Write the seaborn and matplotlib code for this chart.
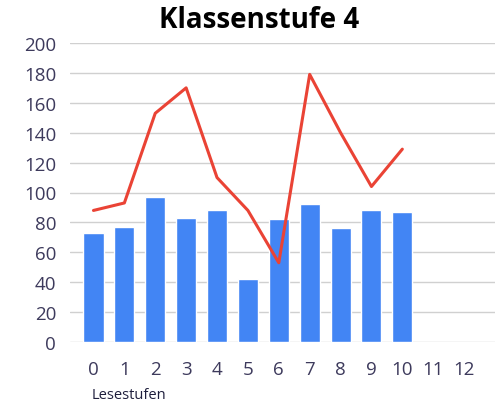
import numpy as np
import pandas as pd
import seaborn as sns
import matplotlib.pyplot as plt

# reading levels and values
levels = list(range(11))
bar_values = [73, 77, 97, 83, 88, 42, 82, 92, 76, 88, 87]
line_values = [88, 93, 153, 170, 110, 88, 53, 179, 140, 104, 129]
tick_labels = [str(i) for i in range(13)]

sns.set_theme(style="white")
plt.rcParams['font.family'] = ['Open Sans', 'DejaVu Sans']

fig = plt.figure(figsize=(5.04, 4.06), dpi=100)
ax = fig.add_axes([70 / 504, 1 - 343 / 406, 425 / 504, 299 / 406])

df = pd.DataFrame({'level': levels, 'bars': bar_values, 'line': line_values})

sns.barplot(data=df, x='level', y='bars', color='#4285F4', saturation=1,
            width=0.65, ax=ax, zorder=2)
sns.lineplot(data=df, x='level', y='line', color='#EA4335', linewidth=2.2,
             ax=ax, zorder=3)

ax.set_xlim(-0.76, 13.0)
ax.set_ylim(0, 200)
ax.set_yticks(range(0, 201, 20))
ax.set_xticks(range(13))
ax.set_xticklabels(tick_labels)
ax.grid(axis='y', color='#d0d0d0', linewidth=1, zorder=0)
ax.set_axisbelow(True)
for s in ax.spines.values():
    s.set_visible(False)
ax.tick_params(axis='both', length=0, labelsize=13.5, colors='#3d3a5c')
ax.tick_params(axis='x', pad=13)
ax.tick_params(axis='y', pad=10)
ax.set_xlabel('')
ax.set_ylabel('')

fig.text(92 / 504, 1 - 396 / 406, 'Lesestufen', fontsize=10.5, color='#1f1f3d',
         va='center', ha='left')
fig.text(259 / 504, 1 - 21 / 406, 'Klassenstufe 4', fontsize=20, fontweight='bold',
         color='black', ha='center', va='center')

fig.savefig('out.png', dpi=100)
